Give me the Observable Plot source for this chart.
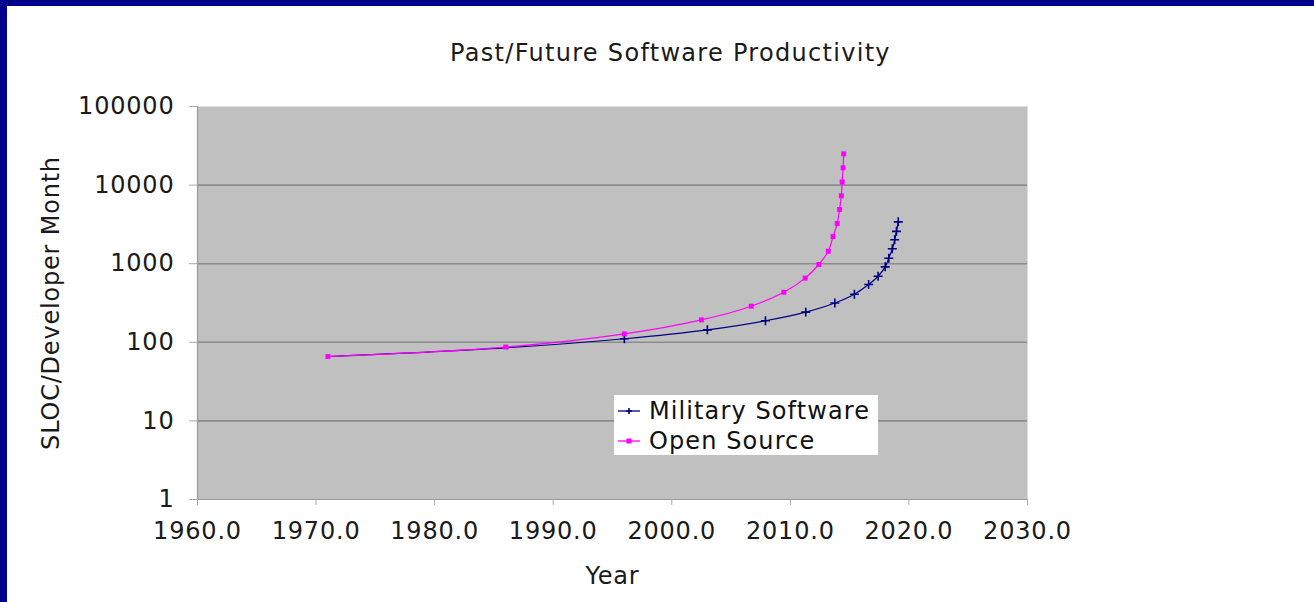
<!DOCTYPE html>
<html>
<head>
<meta charset="utf-8">
<script src="https://cdn.jsdelivr.net/npm/d3@7"></script>
<script src="https://cdn.jsdelivr.net/npm/@observablehq/plot@0.6"></script>
<style>
  html, body { margin: 0; padding: 0; background: #fff; }
  #wrap { position: relative; width: 1314px; height: 602px; overflow: hidden; background: #fff; font-family: "DejaVu Sans", Verdana, sans-serif; }
  #topbar { position: absolute; left: 0; top: 0; width: 1314px; height: 6px; background: #00008b; }
  #leftbar { position: absolute; left: 0; top: 0; width: 7px; height: 602px; background: #00008b; }
  #title { position: absolute; left: 0; width: 1341px; top: 39px; text-align: center; font-size: 24px; letter-spacing: 1.3px; color: #1a1a1a; line-height: 28px; }
  #chart { position: absolute; left: 0; top: 80px; }
  #legend { position: absolute; left: 614px; top: 395px; width: 264px; height: 60px; background: #fff; font-size: 24px; letter-spacing: 1.1px; color: #111; }
  .row { position: absolute; left: 0; height: 30px; line-height: 30px; }
  .row svg { position: absolute; left: 4px; top: 10px; }
  .row span { position: absolute; left: 35px; top: 1px; white-space: nowrap; }
</style>
</head>
<body>
<div id="wrap">
  <div id="topbar"></div>
  <div id="leftbar"></div>
  <div id="title">Past/Future Software Productivity</div>
  <div id="chart"></div>
  <div id="legend"></div>
</div>
<script>
// ---- data ----
const seriesNames = ["Military Software", "Open Source"];
const seriesColors = ["#000080", "#ff00ff"];

const milYears  = [1971, 1986, 1996, 2003.0, 2007.9, 2011.3, 2013.75, 2015.4, 2016.6, 2017.4, 2018.0, 2018.3, 2018.6, 2018.8, 2018.95, 2019.1];
const milValues = [66, 85, 111, 144, 188, 242, 316, 409, 543, 693, 912, 1175, 1550, 2013, 2580, 3410];

const osYears  = [1971, 1986, 1996, 2002.5, 2006.7, 2009.45, 2011.25, 2012.4, 2013.2, 2013.6, 2013.95, 2014.15, 2014.3, 2014.37, 2014.45, 2014.5];
const osValues = [66, 87, 128, 193, 288, 433, 655, 977, 1443, 2217, 3243, 4900, 7300, 10970, 16600, 25000];

const xTicks = [1960, 1970, 1980, 1990, 2000, 2010, 2020, 2030];
const yTicks = [1, 10, 100, 1000, 10000, 100000];
const gridTicks = [10, 100, 1000, 10000];

// ---- build ----
const mil = milYears.map((x, i) => ({x, y: milValues[i]}));
const os = osYears.map((x, i) => ({x, y: osValues[i]}));
// military markers that sit exactly under an open-source marker are hidden by it
const milVisible = mil.filter(d => !os.some(o => o.x === d.x && Math.abs(Math.log10(o.y / d.y)) < 0.02));

const chart = Plot.plot({
  width: 1314,
  height: 522,
  marginTop: 26,
  marginBottom: 103,
  marginLeft: 197,
  marginRight: 287,
  style: {fontFamily: "DejaVu Sans, Verdana, sans-serif", fontSize: "24px", background: "transparent", color: "#1a1a1a", letterSpacing: "0.8px"},
  x: {domain: [xTicks[0], xTicks[xTicks.length - 1]]},
  y: {type: "log", domain: [yTicks[0], yTicks[yTicks.length - 1]]},
  marks: [
    Plot.frame({fill: "#c0c0c0", stroke: null}),
    Plot.gridY(gridTicks, {stroke: "#8c8c8c", strokeOpacity: 1, strokeWidth: 1.6}),
    Plot.ruleY([yTicks[0]], {stroke: "#9a9a9a", strokeWidth: 1.2}),
    Plot.ruleX([xTicks[0]], {stroke: "#9a9a9a", strokeWidth: 1.2}),
    Plot.axisY(yTicks, {tickFormat: d3.format("d"), tickSize: 8, tickPadding: 15, stroke: "#aaa",
      label: "SLOC/Developer Month", labelAnchor: "center", labelOffset: 156, labelArrow: "none"}),
    Plot.axisX(xTicks, {tickFormat: d3.format(".1f"), tickSize: 6, tickPadding: 16, stroke: "#aaa",
      label: "Year", labelAnchor: "center", labelOffset: 84, labelArrow: "none"}),
    Plot.line(mil, {x: "x", y: "y", curve: "catmull-rom", stroke: seriesColors[0], strokeWidth: 1.2}),
    Plot.dot(milVisible, {x: "x", y: "y", symbol: "plus", r: 3, stroke: seriesColors[0], strokeWidth: 1.6}),
    Plot.line(os, {x: "x", y: "y", curve: "catmull-rom", stroke: seriesColors[1], strokeWidth: 1.2}),
    Plot.dot(os, {x: "x", y: "y", symbol: "square", r: 2.8, fill: seriesColors[1], stroke: null})
  ]
});
document.getElementById("chart").appendChild(chart);

// ---- legend ----
const legend = document.getElementById("legend");
seriesNames.forEach((name, i) => {
  const row = document.createElement("div");
  row.className = "row";
  row.style.top = (i * 30) + "px";
  const marker = i === 0
    ? `<line x1="0" y1="6" x2="22" y2="6" stroke="${seriesColors[i]}" stroke-width="1.3"/><path d="M8,6H14M11,3V9" stroke="${seriesColors[i]}" stroke-width="1.6"/>`
    : `<line x1="0" y1="6" x2="22" y2="6" stroke="${seriesColors[i]}" stroke-width="1.3"/><rect x="8.5" y="3.5" width="5" height="5" fill="${seriesColors[i]}"/>`;
  row.innerHTML = `<svg width="24" height="12">${marker}</svg><span>${name}</span>`;
  legend.appendChild(row);
});
</script>
</body>
</html>
